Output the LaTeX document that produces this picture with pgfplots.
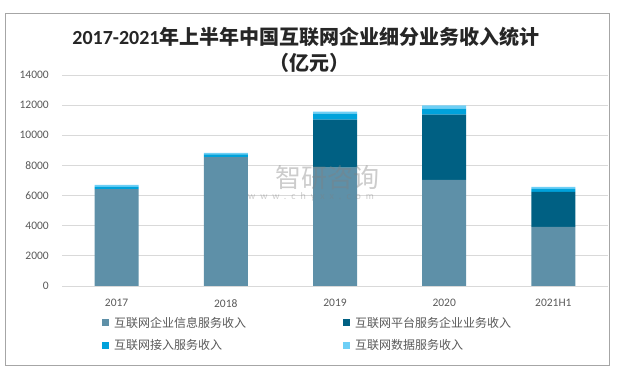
\documentclass[border=0pt]{standalone}
\usepackage{pgfplots}
\pgfplotsset{compat=1.18}
\usepackage{fontspec}
\setmainfont{Carlito}
\newfontfamily\cjk{Noto Sans CJK SC}
\definecolor{cInfo}{RGB}{94,144,168}
\definecolor{cPlat}{RGB}{0,96,131}
\definecolor{cAcc}{RGB}{0,162,219}
\definecolor{cData}{RGB}{109,207,246}
\definecolor{tickgray}{RGB}{89,89,89}
\definecolor{gridgray}{RGB}{217,217,217}
\definecolor{bordergray}{RGB}{166,166,166}
\begin{document}
\begin{tikzpicture}
\useasboundingbox (0,0) rectangle (622bp,372bp);
\draw[color=bordergray, line width=0.8bp] (5.5bp,7bp) rectangle (609bp,359bp);
\node[font=\fontsize{20bp}{24bp}\selectfont\bfseries, text=black!85] at (306bp,335bp) {2017-2021{\cjk 年上半年中国互联网企业细分业务收入统计}};
\node[font=\cjk\fontsize{20bp}{24bp}\selectfont\bfseries, text=black!85] at (309bp,309bp) {（亿元）};
\begin{axis}[
  at={(62bp,86bp)}, anchor=south west,
  scale only axis, width=546bp, height=211bp,
  ybar stacked, bar width=44bp,
  xmin=-0.5, xmax=4.5, ymin=0, ymax=14000,
  xtick=data, xticklabels={2017,2018,2019,2020,2021H1},
  ytick={0,2000,...,14000},
  scaled y ticks=false,
  ymajorgrids, grid style={draw=gridgray, line width=0.8bp},
  axis line style={draw=none},
  major tick length=0pt,
  tick label style={font=\fontsize{11.5bp}{13bp}\selectfont, text=tickgray, inner sep=0pt},
  yticklabel style={anchor=east, xshift=-13bp},
  xticklabel style={anchor=north, yshift=-13bp},
  /pgf/number format/1000 sep={},
  /pgf/number format/assume math mode=true,
  legend image code/.code={\fill[#1,draw=none] (0bp,-3.5bp) rectangle (7bp,3.5bp);},
  legend columns=2,
  legend cell align=left,
  legend style={at={(0.0733,-0.137)}, anchor=north west, draw=none, fill=none, inner sep=0pt,
    font=\cjk\fontsize{12bp}{14bp}\selectfont, text=tickgray, row sep=7bp,
    /tikz/every odd column/.append style={column sep=3bp},
    /tikz/every even column/.append style={column sep=95bp}},
]
\addplot[fill=cInfo, draw=none] coordinates {(0,6425) (1,8552) (2,7862) (3,7044) (4,3921)};
\addplot[fill=cPlat, draw=none] coordinates {(0,0) (1,0) (2,3169) (3,4319) (4,2325)};
\addplot[fill=cAcc, draw=none] coordinates {(0,155) (1,177) (2,399) (3,399) (4,200)};
\addplot[fill=cData, draw=none] coordinates {(0,130) (1,110) (2,132) (3,221) (4,133)};
\legend{互联网企业信息服务收入,互联网平台服务企业业务收入,互联网接入服务收入,互联网数据服务收入}
\end{axis}
\node[text=gray, opacity=0.4, font=\cjk\fontsize{26bp}{30bp}\selectfont] at (327bp,194bp) {智研咨询};
\node[text=gray, opacity=0.4, font=\addfontfeature{LetterSpace=50}\fontsize{10bp}{12bp}\selectfont] at (311bp,175bp) {www.chyxx.com};
\end{tikzpicture}
\end{document}
